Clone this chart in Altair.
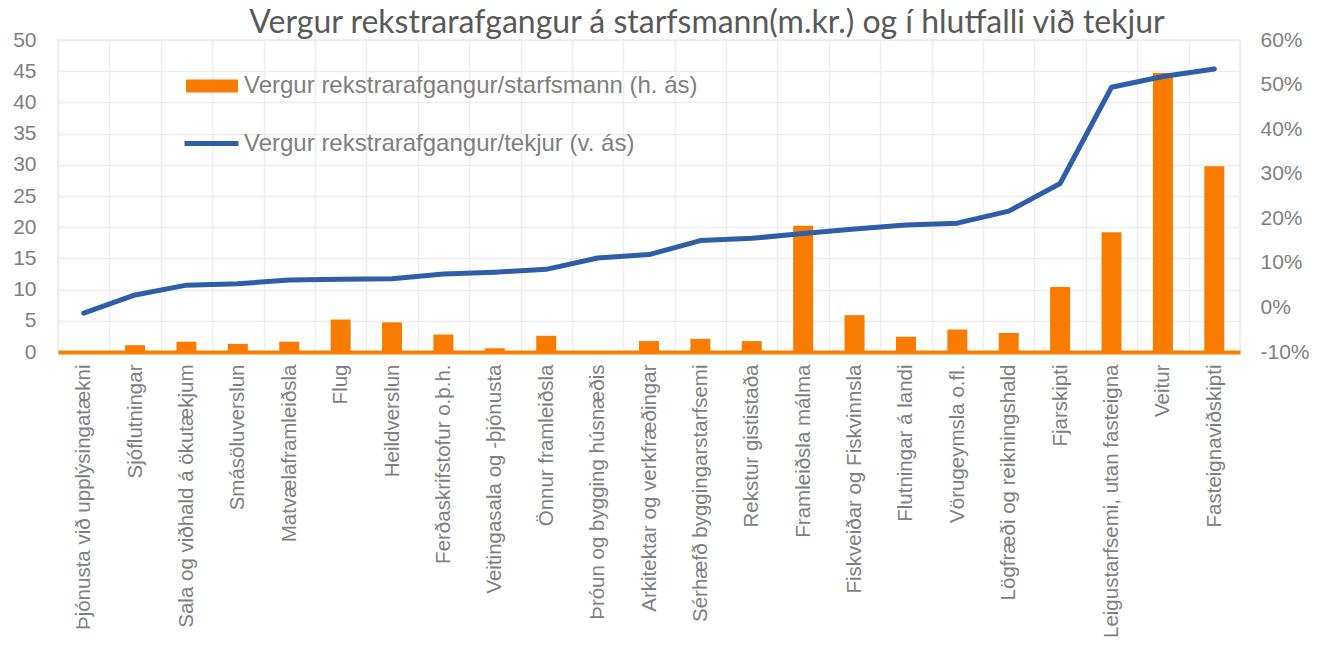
import altair as alt
import pandas as pd

categories = [
    "Þjónusta við upplýsingatækni", "Sjóflutningar", "Sala og viðhald á ökutækjum",
    "Smásöluverslun", "Matvælaframleiðsla", "Flug", "Heildverslun",
    "Ferðaskrifstofur o.þ.h.", "Veitingasala og -þjónusta", "Önnur framleiðsla",
    "Þróun og bygging húsnæðis", "Arkitektar og verkfræðingar", "Sérhæfð byggingarstarfsemi",
    "Rekstur gististaða", "Framleiðsla málma", "Fiskveiðar og Fiskvinnsla",
    "Flutningar á landi", "Vörugeymsla o.fl.", "Lögfræði og reikningshald",
    "Fjarskipti", "Leigustarfsemi, utan fasteigna", "Veitur", "Fasteignaviðskipti",
]
per_employee = [0.0, 1.1, 1.65, 1.3, 1.65, 5.2, 4.75, 2.8, 0.6, 2.6, 0.0, 1.75, 2.1,
                1.75, 20.25, 5.9, 2.45, 3.6, 3.05, 10.4, 19.2, 44.7, 29.75]
ratio_pct = [-1.3, 2.8, 5.0, 5.3, 6.15, 6.3, 6.45, 7.5, 7.9, 8.55, 11.1, 11.85, 15.0,
             15.5, 16.6, 17.6, 18.5, 18.9, 21.6, 27.8, 49.4, 51.8, 53.5]

bar_label = "Vergur rekstrarafgangur/starfsmann (h. ás)"
line_label = "Vergur rekstrarafgangur/tekjur (v. ás)"
title_text = "Vergur rekstrarafgangur á starfsmann(m.kr.) og í hlutfalli við tekjur"

left_ticks = [0, 5, 10, 15, 20, 25, 30, 35, 40, 45, 50]
right_ticks = [-0.1, 0.0, 0.1, 0.2, 0.3, 0.4, 0.5, 0.6]

ORANGE = "#F97B00"
BLUE = "#2F5EA8"
GRID = "#EDEDED"
LABEL = "#7F7F7F"
FONT = "Liberation Sans"

df = pd.DataFrame({
    "cat": categories,
    "val": per_employee,
    "ratio": [r / 100 for r in ratio_pct],
    "bs": bar_label,
    "ls": line_label,
})

x_enc = alt.X(
    "cat:N", sort=categories, title=None,
    scale=alt.Scale(paddingInner=0, paddingOuter=0),
    axis=alt.Axis(
        labelAngle=-90, labelFontSize=20.5, labelColor=LABEL, labelFont=FONT,
        labelPadding=12, ticks=False, domainColor=ORANGE, domainWidth=4,
        grid=True, gridColor=GRID, gridWidth=1.5, tickBand="extent", labelLimit=400,
    ),
)

bars = alt.Chart(df).mark_bar(size=20).encode(
    x=x_enc,
    y=alt.Y(
        "val:Q", title=None,
        scale=alt.Scale(domain=[0, 50], nice=False, zero=True),
        axis=alt.Axis(
            values=left_ticks, labelFontSize=21, labelColor=LABEL, labelFont=FONT,
            labelPadding=22, ticks=False, domain=False, grid=True,
            gridColor=GRID, gridWidth=1.5,
        ),
    ),
    color=alt.Color(
        "bs:N", title=None,
        scale=alt.Scale(domain=[bar_label], range=[ORANGE]),
        legend=alt.Legend(
            orient="none", legendX=128, legendY=20, labelFontSize=24,
            labelColor=LABEL, labelFont=FONT, labelOffset=6, labelLimit=600,
            symbolType="M-1,-0.25H1V0.25H-1Z", symbolSize=2704, symbolOpacity=1,
            symbolStrokeWidth=0, padding=0,
        ),
    ),
)

line = alt.Chart(df).mark_line(strokeWidth=5, strokeCap="round", strokeJoin="round").encode(
    x=x_enc,
    y=alt.Y(
        "ratio:Q", title=None,
        scale=alt.Scale(domain=[-0.1, 0.6], nice=False, zero=False),
        axis=alt.Axis(
            orient="right", values=right_ticks,
            labelExpr="round(datum.value * 100) + '%'", labelFontSize=21,
            labelColor=LABEL, labelFont=FONT, labelPadding=20, ticks=False,
            domain=False, grid=False,
        ),
    ),
    stroke=alt.Stroke(
        "ls:N", title=None,
        scale=alt.Scale(domain=[line_label], range=[BLUE]),
        legend=alt.Legend(
            orient="none", legendX=124, legendY=74, labelFontSize=24,
            labelColor=LABEL, labelFont=FONT, labelOffset=3, labelLimit=600,
            symbolType="stroke", symbolSize=2916, symbolStrokeWidth=5, padding=0,
        ),
    ),
)

chart = alt.layer(bars, line).resolve_scale(
    y="independent", color="independent", stroke="independent"
).properties(
    width=1182, height=312,
    title=alt.TitleParams(
        text=title_text, fontSize=32, font="Lato", fontWeight="normal",
        color="#595959", anchor="middle", dx=58, offset=-11,
    ),
    autosize=alt.AutoSizeParams(type="none"),
    padding={"left": 50, "top": 32, "right": 79, "bottom": 288},
).configure_view(stroke=GRID, strokeWidth=1.5)

chart.save("out.html", embed_options={"renderer": "svg", "actions": False})
